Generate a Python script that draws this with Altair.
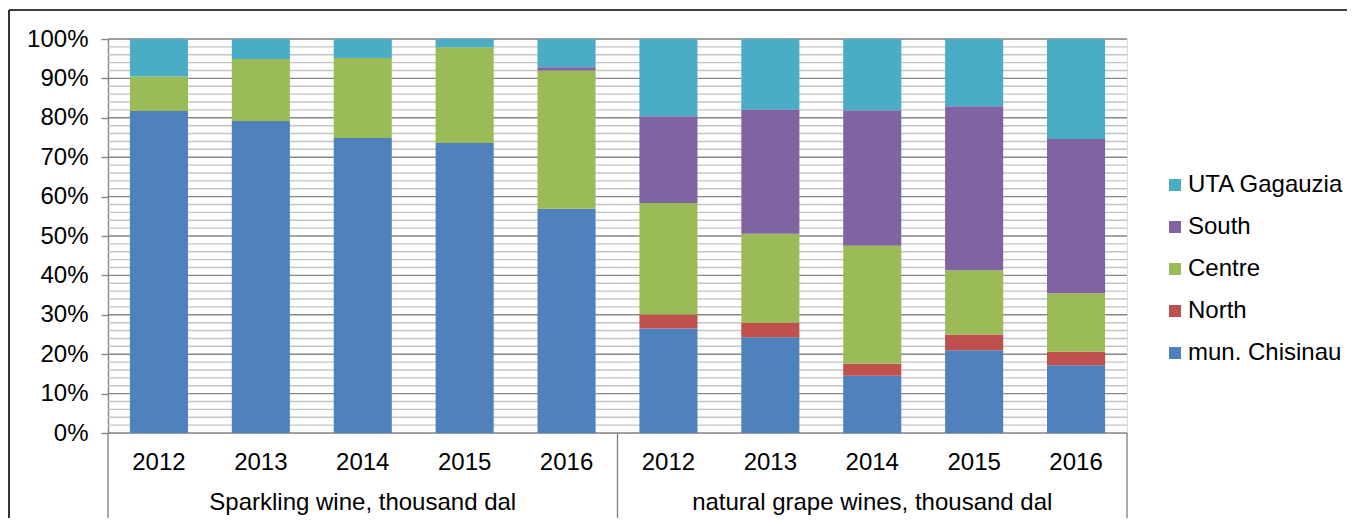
import altair as alt
import pandas as pd

groups = ["Sparkling wine, thousand dal", "natural grape wines, thousand dal"]
years = ["2012", "2013", "2014", "2015", "2016"]
regions = ["mun. Chisinau", "North", "Centre", "South", "UTA Gagauzia"]
region_colors = ["#4F81BD", "#C0504D", "#9BBB59", "#8064A2", "#4BACC6"]

# shares in %, first five = sparkling 2012-2016, last five = natural 2012-2016
chisinau = [81.7, 79.2, 74.9, 73.6, 56.9, 26.5, 24.3, 14.5, 21.0, 17.2]
north = [0, 0, 0, 0, 0, 3.6, 3.6, 3.1, 4.0, 3.4]
centre = [8.8, 15.7, 20.3, 24.3, 35.1, 28.3, 22.7, 29.9, 16.3, 14.9]
south = [0, 0, 0, 0, 0.8, 22.0, 31.5, 34.4, 41.6, 39.1]
gagauzia = [9.5, 5.1, 4.8, 2.1, 7.2, 19.6, 17.9, 18.1, 17.1, 25.4]

major_ticks = [0, 10, 20, 30, 40, 50, 60, 70, 80, 90, 100]
minor_ticks = [v for v in range(2, 100, 2) if v % 10 != 0]

series = [chisinau, north, centre, south, gagauzia]
rows = []
keys = []
for gi, g in enumerate(groups):
    for yi, yr in enumerate(years):
        key = "AB"[gi] + yr
        keys.append(key)
        for ri, r in enumerate(regions):
            v = series[ri][gi * 5 + yi]
            if v > 0:
                rows.append(dict(key=key, region=r, share=v, order=ri))
df = pd.DataFrame(rows)

FONT = "Liberation Sans"
FS = 24
W, H = 1019, 394

xscale = alt.Scale(domain=keys, paddingInner=0, paddingOuter=0)
yscale = alt.Scale(domain=[0, 100], nice=False)

x_axis = alt.Axis(
    labelExpr="substring(datum.value, 1)",
    ticks=False,
    tickSize=0,
    domain=False,
    grid=False,
    labelAngle=0,
    labelBaseline="middle",
    labelPadding=29,
    labelFontSize=FS,
    labelFont=FONT,
    labelColor="#000000",
    title=None,
)
y_axis = alt.Axis(
    values=major_ticks,
    labelExpr="datum.value + '%'",
    tickSize=7,
    tickColor="#868686",
    tickWidth=1.4,
    domainColor="#868686",
    domainWidth=1.4,
    grid=False,
    labelPadding=13,
    labelFontSize=FS,
    labelFont=FONT,
    labelColor="#000000",
    title=None,
)

minor = alt.Chart(pd.DataFrame({"v": minor_ticks})).mark_rule(
    color="#C4C4C4", strokeWidth=1.4
).encode(y=alt.Y("v:Q", scale=yscale, axis=y_axis, title=None))

major = alt.Chart(pd.DataFrame({"v": major_ticks})).mark_rule(
    color="#868686", strokeWidth=1.4
).encode(y=alt.Y("v:Q", scale=yscale, axis=y_axis, title=None))

bars = alt.Chart(df).mark_bar(width=alt.RelativeBandSize(0.57)).encode(
    x=alt.X("key:N", scale=xscale, sort=keys, title=None, axis=x_axis),
    y=alt.Y("share:Q", stack="zero", scale=yscale, title=None, axis=y_axis),
    color=alt.Color(
        "region:N",
        scale=alt.Scale(domain=regions[::-1], range=region_colors[::-1]),
        legend=alt.Legend(
            title=None,
            orient="none",
            legendX=1055,
            legendY=134,
            padding=0,
            symbolType="square",
            symbolSize=144,
            symbolStrokeWidth=0,
            labelFontSize=FS,
            labelFont=FONT,
            labelColor="#000000",
            labelOffset=1,
            rowPadding=18,
        ),
    ),
    order=alt.Order("order:Q"),
)

sep_left = alt.Chart(pd.DataFrame({"key": [keys[0], keys[5]]})).mark_rule(
    color="#868686", strokeWidth=1.4
).encode(
    x=alt.X("key:N", scale=xscale, sort=keys, bandPosition=0, axis=x_axis, title=None),
    y=alt.value(H),
    y2=alt.value(H + 86),
)
sep_right = alt.Chart(pd.DataFrame({"key": [keys[9]]})).mark_rule(
    color="#868686", strokeWidth=1.4
).encode(
    x=alt.X("key:N", scale=xscale, sort=keys, bandPosition=1, axis=x_axis, title=None),
    y=alt.value(H),
    y2=alt.value(H + 86),
)

group_labels = alt.Chart(
    pd.DataFrame({"key": [keys[2], keys[7]], "label": groups})
).mark_text(fontSize=FS, font=FONT, color="#000000", baseline="middle").encode(
    x=alt.X("key:N", scale=xscale, sort=keys, bandPosition=0.5, axis=x_axis, title=None),
    y=alt.value(H + 70),
    text="label:N",
)

frame_top = alt.Chart(pd.DataFrame({"a": [0]})).mark_rule(
    color="#000000", strokeWidth=1.6
).encode(x=alt.value(-99), x2=alt.value(1300), y=alt.value(-29))
frame_left = alt.Chart(pd.DataFrame({"a": [0]})).mark_rule(
    color="#000000", strokeWidth=1.6
).encode(x=alt.value(-99), y=alt.value(-29), y2=alt.value(H + 100))

chart = (
    alt.layer(minor, major, bars, sep_left, sep_right, group_labels, frame_top, frame_left)
    .properties(
        width=W,
        height=H,
        autosize=alt.AutoSizeParams(type="none"),
        padding={"left": 100, "top": 31, "right": 220, "bottom": 85},
    )
    .configure_view(stroke=None)
    .configure(background="#FFFFFF")
)

chart.save("out.html", embed_options={"renderer": "svg", "actions": False})
